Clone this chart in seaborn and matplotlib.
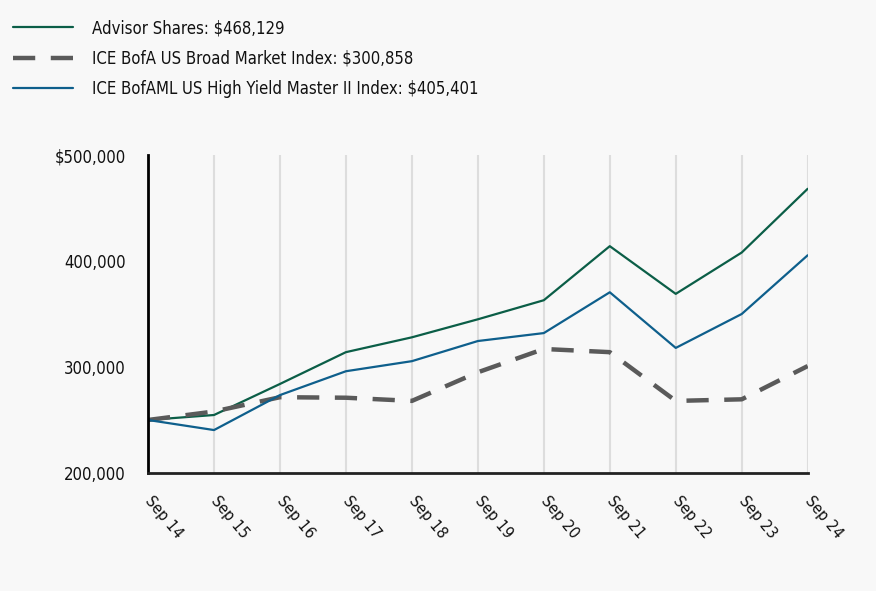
import matplotlib
matplotlib.use('Agg')
import matplotlib.pyplot as plt
import pandas as pd
import seaborn as sns
from matplotlib import ticker

years = ['Sep 14', 'Sep 15', 'Sep 16', 'Sep 17', 'Sep 18', 'Sep 19',
         'Sep 20', 'Sep 21', 'Sep 22', 'Sep 23', 'Sep 24']
advisor = [250000, 254700, 284000, 314000, 328000, 345000,
           363000, 414000, 369000, 408000, 468129]
broad = [250000, 258000, 271500, 271000, 268000, 295000,
         317000, 314000, 268000, 269500, 300858]
high_yield = [250000, 240500, 273500, 296000, 305500, 324500,
              332000, 370500, 318000, 350000, 405401]

labels = ['Advisor Shares: $468,129',
          'ICE BofA US Broad Market Index: $300,858',
          'ICE BofAML US High Yield Master II Index: $405,401']

df = pd.concat([
    pd.DataFrame({'period': years, 'value': vals, 'series': lab})
    for vals, lab in zip([advisor, broad, high_yield], labels)
])
df['x'] = df['period'].map({p: i for i, p in enumerate(years)})

sns.set_style('white')
plt.rcParams['font.family'] = ['DejaVu Sans']
plt.rcParams['font.stretch'] = 'condensed'
plt.rcParams['text.color'] = '#111111'
bg = '#f8f8f8'
fs = 12

fig = plt.figure(figsize=(8.76, 5.91), dpi=100, facecolor=bg)
ax = fig.add_axes([0.169, 0.1997, 0.753, 0.538], facecolor=bg)

palette = {labels[0]: '#0b5e47', labels[1]: '#5a5a5a', labels[2]: '#0e5f8c'}
dashes = {labels[0]: '', labels[1]: (5, 3.5), labels[2]: ''}
ax = sns.lineplot(data=df, x='x', y='value', hue='series', style='series',
                  palette=palette, dashes=dashes, ax=ax, legend=False)
for line in ax.lines:
    line.set_linewidth(1.6)
ax.lines[1].set_linewidth(3.2)

ax.set_xlim(0, len(years) - 1)
ax.set_ylim(200000, 500000)
ax.set_xticks(range(len(years)))
ax.set_xticklabels(years, rotation=-50, ha='left', va='center',
                   rotation_mode='anchor', fontsize=11.5, color='#111111')
ax.set_yticks([200000, 300000, 400000, 500000])
ax.yaxis.set_major_formatter(ticker.FuncFormatter(
    lambda v, p: f'${v:,.0f}' if v == 500000 else f'{v:,.0f}'))
ax.tick_params(axis='y', labelsize=fs, length=0, pad=16, labelcolor='#111111')
ax.tick_params(axis='x', length=0, pad=18)
ax.set_xlabel('')
ax.set_ylabel('')

ax.grid(axis='x', color='#dddddd', linewidth=1.5)
ax.set_axisbelow(True)
for side in ['top', 'right']:
    ax.spines[side].set_visible(False)
ax.spines['left'].set_color('black')
ax.spines['left'].set_linewidth(2)
ax.spines['bottom'].set_color('#222222')
ax.spines['bottom'].set_linewidth(2)

handles = [plt.Line2D([], [], color=palette[labels[0]], lw=1.6),
           plt.Line2D([], [], color=palette[labels[1]], lw=3.2, dashes=(5, 3.5)),
           plt.Line2D([], [], color=palette[labels[2]], lw=1.6)]
fig.legend(handles, labels, loc='upper left', bbox_to_anchor=(-0.002, 0.993),
           frameon=False, fontsize=fs, handlelength=3.6, handletextpad=1.1,
           labelspacing=0.75, borderaxespad=0.5)

fig.savefig('out.png', dpi=100, facecolor=bg)
